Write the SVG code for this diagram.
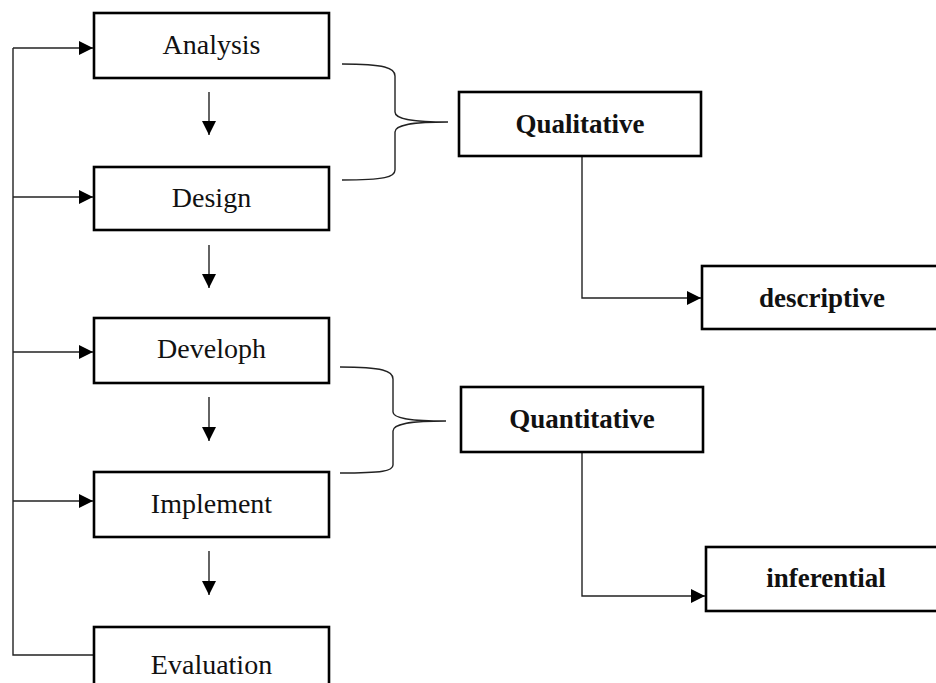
<svg xmlns="http://www.w3.org/2000/svg" width="936" height="683" viewBox="0 0 936 683">
<style>
.box{fill:#fff;stroke:#000;stroke-width:2.6}
.t{font-family:"Liberation Serif","Times New Roman",serif;font-size:28px;fill:#111;text-anchor:middle}
.b{font-family:"Liberation Serif","Times New Roman",serif;font-size:27px;font-weight:bold;fill:#111;text-anchor:middle}
.ln{fill:none;stroke:#222;stroke-width:1.4}
</style>
<defs>
<marker id="ah" viewBox="0 0 10 10" refX="10" refY="5" markerWidth="15" markerHeight="14" markerUnits="userSpaceOnUse" orient="auto">
<path d="M0,0 L10,5 L0,10 Z" fill="#000"/>
</marker>
</defs>
<rect width="936" height="683" fill="#fff"/>
<g id="connectors">
<path class="ln" d="M13,48 V655 H94"/>
<path class="ln" d="M13,48 H93" marker-end="url(#ah)"/>
<path class="ln" d="M13,197 H93" marker-end="url(#ah)"/>
<path class="ln" d="M13,352 H93" marker-end="url(#ah)"/>
<path class="ln" d="M13,501 H93" marker-end="url(#ah)"/>
<path class="ln" d="M209,92 V135" marker-end="url(#ah)"/>
<path class="ln" d="M209,245 V288" marker-end="url(#ah)"/>
<path class="ln" d="M209,397 V441" marker-end="url(#ah)"/>
<path class="ln" d="M209,551 V595" marker-end="url(#ah)"/>
<path class="ln" d="M342,64 C385,64 395,68 395,76 L395,112 C395,119 410,122 448,122 M448,122 C410,122 395,125 395,132 L395,170 C395,177 385,180 342,180"/>
<path class="ln" d="M340,367 C383,367 393,371 393,379 L393,412 C393,418 408,421 446,421 M446,421 C408,421 393,424 393,431 L393,465 C393,471 383,473 340,473"/>
<path class="ln" d="M582,156 V298 H701" marker-end="url(#ah)"/>
<path class="ln" d="M582,452 V596 H705" marker-end="url(#ah)"/>
</g>
<g id="analysis"><rect class="box" x="94" y="13" width="235" height="65"/><text class="t" x="211.5" y="54">Analysis</text></g>
<g id="design"><rect class="box" x="94" y="167" width="235" height="63"/><text class="t" x="211.5" y="207">Design</text></g>
<g id="developh"><rect class="box" x="94" y="318" width="235" height="65"/><text class="t" x="211.5" y="358">Developh</text></g>
<g id="implement"><rect class="box" x="94" y="472" width="235" height="65"/><text class="t" x="211.5" y="513">Implement</text></g>
<g id="evaluation"><rect class="box" x="94" y="627" width="235" height="80"/><text class="t" x="211.5" y="674">Evaluation</text></g>
<g id="qualitative"><rect class="box" x="459" y="92" width="242" height="64"/><text class="b" x="580" y="133">Qualitative</text></g>
<g id="quantitative"><rect class="box" x="461" y="387" width="242" height="65"/><text class="b" x="582" y="428">Quantitative</text></g>
<g id="descriptive"><rect class="box" x="702" y="266" width="260" height="63"/><text class="b" x="822" y="307">descriptive</text></g>
<g id="inferential"><rect class="box" x="706" y="547" width="260" height="64"/><text class="b" x="826" y="587">inferential</text></g>
</svg>
